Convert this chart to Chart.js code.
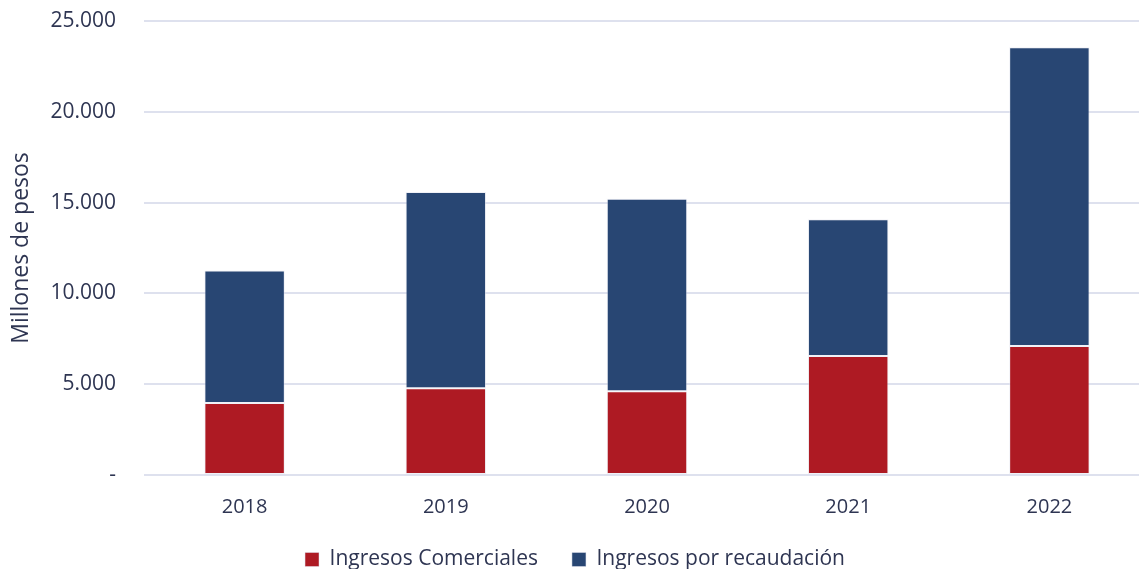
<!DOCTYPE html>
<html>
<head>
<meta charset="utf-8">
<script src="https://cdn.jsdelivr.net/npm/chart.js@4"></script>
<style>
  html, body { margin: 0; padding: 0; background: #fff; overflow: hidden; }
  #wrap { width: 1150px; height: 569px; }
</style>
</head>
<body>
<div id="wrap"><canvas id="ingresos"></canvas></div>
<script>
// datos del gráfico (millones de pesos)
const years = ['2018', '2019', '2020', '2021', '2022'];
const comerciales = [3960, 4780, 4610, 6550, 7100];
const recaudacion = [7300, 10810, 10600, 7530, 16450];
const yTicks = [0, 5000, 10000, 15000, 20000, 25000];

const textColor = '#2E3552';

function fmt(v) { // 25000 -> "25.000", 0 -> "-"
    if (v === 0) return '-';
    return String(v).replace(/\B(?=(\d{3})+(?!\d))/g, '.');
}

// move the legend up a bit without changing the chart area
const legendShift = {
    id: 'legendShift',
    afterLayout(chart) {
        chart.legend.top -= 16;
        chart.legend.bottom -= 16;
    }
};

Chart.defaults.font.family = "'Open Sans', sans-serif";
Chart.defaults.font.size = 20;
Chart.defaults.color = textColor;

const ctx = document.getElementById('ingresos').getContext('2d');
const chart = new Chart(ctx, {
    type: 'bar',
    data: {
        labels: years,
        datasets: [{
            label: 'Ingresos Comerciales',
            data: comerciales,
            backgroundColor: '#AE1A23',
            borderColor: 'rgba(225,228,240,0.5)',
            borderWidth: 1,
            borderSkipped: false
        }, {
            label: 'Ingresos por recaudación',
            data: recaudacion,
            backgroundColor: '#284673',
            borderColor: 'rgba(225,228,240,0.5)',
            borderWidth: 1,
            borderSkipped: false
        }]
    },
    plugins: [legendShift],
    options: {
        responsive: true,
        maintainAspectRatio: false,
        animation: false,
        layout: { padding: { top: 21, right: 0, left: 0, bottom: -27 } },
        datasets: { bar: { barPercentage: 0.4, categoryPercentage: 1 } },
        plugins: {
            tooltip: { enabled: false },
            legend: {
                position: 'bottom',
                labels: { boxWidth: 14, boxHeight: 14, padding: 34, font: { size: 21 } }
            }
        },
        scales: {
            x: {
                stacked: true,
                grid: { display: false },
                border: { display: false },
                ticks: { padding: 12 }
            },
            y: {
                stacked: true,
                min: 0,
                max: 25000,
                afterBuildTicks: (scale) => { scale.ticks = yTicks.map(v => ({ value: v })); },
                afterFit: (scale) => { scale.width = 144; },
                grid: { color: '#DEE1EE', lineWidth: 2, tickLength: 24, tickColor: 'rgba(0,0,0,0)' },
                border: { display: false },
                ticks: { padding: 4, font: { size: 21 }, callback: (v) => fmt(v) },
                title: {
                    display: true,
                    text: 'Millones de pesos',
                    font: { size: 23 },
                    padding: { top: 8, bottom: 0 }
                }
            }
        }
    }
});
</script>
</body>
</html>
